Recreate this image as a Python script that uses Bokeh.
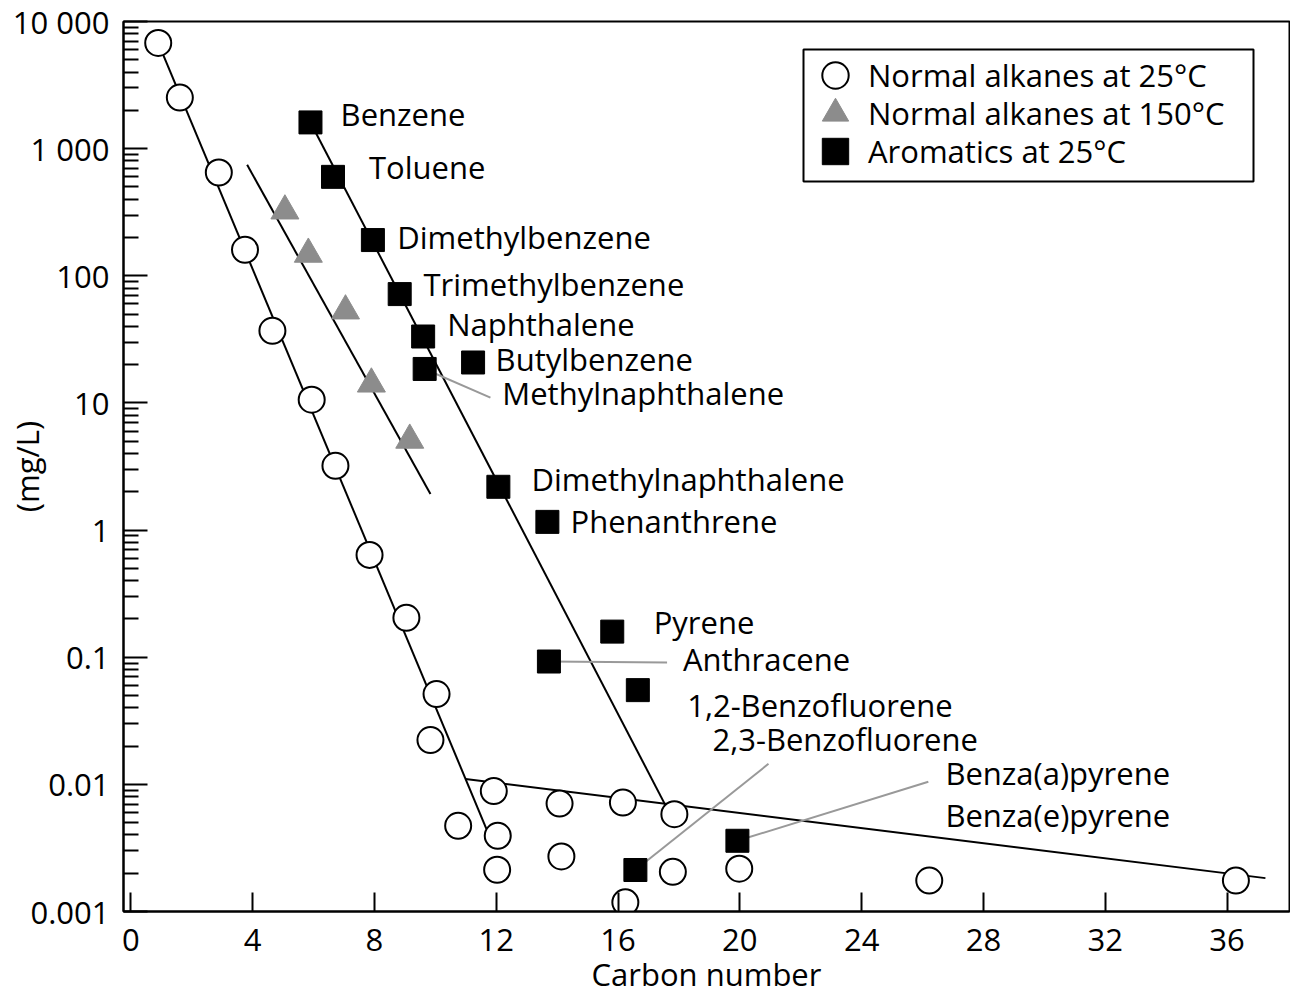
import math
from bokeh.plotting import figure
from bokeh.models import (Range1d, FixedTicker, Legend, LegendItem,
                          CustomJSTickFormatter, BoxAnnotation)
from bokeh.core.properties import value
from bokeh.embed import file_html
from bokeh.resources import INLINE

# ---------------- data ----------------
# Normal alkanes at 25 °C
alk25_x = [0.90, 1.61, 2.89, 3.75, 4.65, 5.94, 6.72, 7.84, 9.05, 10.04, 9.84, 10.75,
           11.92, 12.05, 12.03, 14.08, 14.14, 16.16, 16.24, 17.85, 17.80, 19.98, 26.22, 36.29]
alk25_y = [6780, 2523, 649, 160, 36.9, 10.6, 3.2, 0.638, 0.204, 0.0513, 0.0223, 0.00472,
           0.00885, 0.00394, 0.00213, 0.00706, 0.00271, 0.00719, 0.00118, 0.00583, 0.00205,
           0.00217, 0.00175, 0.00175]

# Normal alkanes at 150 °C
alk150_x = [5.06, 5.83, 7.05, 7.90, 9.16]
alk150_y = [324, 148, 53, 14.1, 5.1]

# Aromatics at 25 °C
aro_names = ["Benzene", "Toluene", "Dimethylbenzene", "Trimethylbenzene", "Naphthalene",
             "Butylbenzene", "Methylnaphthalene", "Dimethylnaphthalene", "Phenanthrene",
             "Pyrene", "Anthracene", "1,2-Benzofluorene", "2,3-Benzofluorene", "Benza(a)pyrene"]
aro_x = [5.90, 6.64, 7.95, 8.83, 9.60, 11.24, 9.65, 12.07, 13.68, 15.81, 13.73, 16.65, 16.57, 19.92]
aro_y = [1608, 600, 191, 71.8, 33.3, 20.8, 18.5, 2.19, 1.16, 0.159, 0.0925, 0.0551, 0.00212, 0.0036]

# Trend lines (end points)
fit_alk25_x = [0.90, 11.68]
fit_alk25_y = [6780, 0.00445]
fit_tail_x = [10.99, 37.26]
fit_tail_y = [0.011, 0.00183]
fit_alk150_x = [3.82, 9.84]
fit_alk150_y = [746, 1.92]
fit_aro_x = [5.90, 17.55]
fit_aro_y = [1608, 0.0069]

# Compound labels (anchor = left edge, vertical middle)
label_text = aro_names + ["Benza(e)pyrene"]
label_x = [6.89, 7.82, 8.75, 9.61, 10.39, 11.98, 12.20, 13.16, 14.44, 17.17, 18.13, 18.27, 19.10, 26.75, 26.75]
label_y = [1800, 690, 194, 83.4, 40.5, 21.4, 11.6, 2.44, 1.14, 0.183, 0.0938, 0.0407, 0.022, 0.0119, 0.00556]

# Leader lines (from point to label)
leader_x0 = [9.65, 13.73, 16.57, 19.92]
leader_y0 = [18.5, 0.0925, 0.00212, 0.0036]
leader_x1 = [11.81, 17.61, 20.94, 26.19]
leader_y1 = [11.0, 0.0908, 0.0145, 0.01047]

x_ticks = [0, 4, 8, 12, 16, 20, 24, 28, 32, 36]
y_ticks = [0.001, 0.01, 0.1, 1, 10, 100, 1000, 10000]
legend_labels = ["Normal alkanes at 25°C", "Normal alkanes at 150°C", "Aromatics at 25°C"]

FONT = "Open Sans"
FS = "31px"

p = figure(width=1290, height=998,
           x_range=Range1d(-0.24, 38.05), y_range=Range1d(0.001, 10000),
           y_axis_type="log", output_backend="svg", toolbar_location=None,
           min_border_left=123, min_border_right=1, min_border_top=21, min_border_bottom=87,
           background_fill_color="white", border_fill_color="white")

p.grid.visible = False
p.outline_line_color = "black"
p.outline_line_width = 2
p.outline_line_alpha = 1

# axes
xa = p.xaxis[0]
xa.ticker = FixedTicker(ticks=x_ticks, minor_ticks=[])
ya = p.yaxis[0]
minor = [m * 10.0 ** e for e in range(-3, 4) for m in range(2, 10)]
ya.ticker = FixedTicker(ticks=y_ticks, minor_ticks=minor)
ya.formatter = CustomJSTickFormatter(code="""
    if (tick >= 1000) { return Math.round(tick).toString().replace(/\\B(?=(\\d{3})+(?!\\d))/g, " "); }
    return tick.toString();
""")
for ax in (xa, ya):
    ax.axis_line_color = "black"
    ax.axis_line_width = 2
    ax.major_tick_line_color = "black"
    ax.major_tick_line_width = 2
    ax.minor_tick_line_color = "black"
    ax.minor_tick_line_width = 2
    ax.major_tick_out = 0
    ax.minor_tick_out = 0
    ax.major_label_text_font = FONT
    ax.major_label_text_font_size = FS
    ax.major_label_text_color = "black"
    ax.axis_label_text_font = FONT
    ax.axis_label_text_font_size = FS
    ax.axis_label_text_font_style = "normal"
    ax.axis_label_text_color = "black"
xa.major_tick_in = 19
ya.major_tick_in = 24
ya.minor_tick_in = 15
xa.major_label_standoff = 17
ya.major_label_standoff = 14
xa.axis_label = "Carbon number"
xa.axis_label_standoff = -1
ya.axis_label = "(mg/L)"
ya.axis_label_standoff = -38

# trend lines
for fx, fy in ((fit_alk25_x, fit_alk25_y), (fit_tail_x, fit_tail_y),
               (fit_alk150_x, fit_alk150_y), (fit_aro_x, fit_aro_y)):
    p.line(fx, fy, line_color="black", line_width=2)

# leader lines
p.segment(x0=leader_x0, y0=leader_y0, x1=leader_x1, y1=leader_y1,
          line_color="#999999", line_width=2)

# markers
r_c = p.scatter(alk25_x, alk25_y, marker="circle", size=26, fill_color="white",
                line_color="black", line_width=2)
r_t = p.scatter(alk150_x, alk150_y, marker="triangle", size=28, fill_color="#8c8c8c",
                line_color="#8c8c8c", line_width=1)
r_s = p.scatter(aro_x, aro_y, marker="square", size=23, fill_color="black",
                line_color="black", line_width=1)

# compound labels
p.text(x=label_x, y=label_y, text=label_text, text_font=value(FONT), text_font_size=FS,
       text_align="left", text_baseline="middle", text_color="black", y_offset=-2)

# legend: framed box + one legend per entry
p.add_layout(BoxAnnotation(left=680, right=1130, top=862, bottom=730,
                           left_units="screen", right_units="screen",
                           top_units="screen", bottom_units="screen",
                           fill_color="white", fill_alpha=1,
                           line_color="black", line_width=2, line_alpha=1))
for lab, rend, ly in zip(legend_labels, (r_c, r_t, r_s), (803, 765, 727)):
    lg = Legend(items=[LegendItem(label=lab, renderers=[rend])],
                location=(679, ly), glyph_width=66, glyph_height=66, spacing=0,
                padding=0, margin=0, label_standoff=0,
                label_text_font=FONT, label_text_font_size=FS, label_text_color="black",
                border_line_alpha=0, background_fill_alpha=0)
    p.add_layout(lg)

open("out.html", "w").write(file_html(p, INLINE))
